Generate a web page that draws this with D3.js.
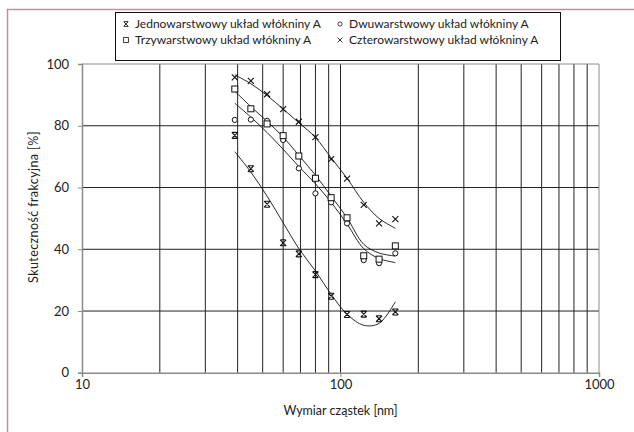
<!DOCTYPE html>
<html>
<head>
<meta charset="utf-8">
<script src="https://cdn.jsdelivr.net/npm/d3@7/dist/d3.min.js"></script>
<style>
body { margin: 0; background: #fff; }
text { font-family: Lato, "Open Sans", sans-serif; fill: #222; }
</style>
</head>
<body>
<div id="chart"></div>
<script>
// particle size [nm] and fractional efficiency [%]
const particleSize = [39, 45, 52, 60, 69, 80, 92, 106, 123, 141, 163];
const jedno  = [76.9, 66.1, 54.6, 42.1, 38.5, 31.8, 24.8, 18.9, 19.0, 17.5, 19.7];
const dwu    = [81.9, 82.0, 81.6, 75.4, 66.2, 58.1, 55.2, 48.4, 36.5, 35.5, 38.7];
const trzy   = [91.9, 85.5, 80.6, 76.8, 70.2, 63.0, 56.7, 50.2, 37.9, 36.8, 41.1];
const cztero = [95.7, 94.5, 90.2, 85.4, 81.3, 76.3, 69.2, 62.9, 54.4, 48.4, 49.8];
// trend line values at the same sizes
const jednoTrend  = [71.6, 65.0, 57.2, 48.6, 40.2, 33.0, 25.4, 19.0, 15.4, 16.0, 23.0];
const dwuTrend    = [87.3, 82.8, 77.8, 72.4, 66.8, 61.2, 55.2, 48.2, 40.2, 37.0, 35.7];
const trzyTrend   = [91.2, 86.2, 81.4, 76.4, 70.4, 64.0, 57.2, 50.2, 41.6, 38.8, 37.8];
const czteroTrend = [96.5, 93.6, 89.8, 85.4, 81.0, 76.2, 69.6, 63.0, 55.2, 50.0, 46.8];
const seriesNames = [
    "Jednowarstwowy układ włókniny A",
    "Dwuwarstwowy układ włókniny A",
    "Trzywarstwowy układ włókniny A",
    "Czterowarstwowy układ włókniny A"
];
const yTicks = [0, 20, 40, 60, 80, 100];
const xTicks = [10, 100, 1000];
const xLabel = "Wymiar cząstek [nm]";
const yLabel = "Skuteczność frakcyjna [%]";

const series = [
    { name: seriesNames[0], values: jedno, trend: jednoTrend, marker: "star" },
    { name: seriesNames[1], values: dwu, trend: dwuTrend, marker: "circle" },
    { name: seriesNames[2], values: trzy, trend: trzyTrend, marker: "square" },
    { name: seriesNames[3], values: cztero, trend: czteroTrend, marker: "x" }
];

const width = 634, height = 432;
const plotLeft = 82, plotRight = 599, plotTop = 64, plotBottom = 372.8;

const svg = d3.select("#chart").append("svg")
    .attr("width", width)
    .attr("height", height);

// outer frame (only top and left edge are visible)
svg.append("path")
    .attr("d", "M7.5," + height + "V9.5H" + width)
    .attr("fill", "none")
    .attr("stroke", "#b9939f")
    .attr("stroke-width", 1.5);

const x = d3.scaleLog().domain([10, 1000]).range([plotLeft, plotRight]);
const y = d3.scaleLinear().domain([0, 100]).range([plotBottom, plotTop]);

// grid
const minor = d3.range(2, 10).map(d => d * 10).concat(d3.range(2, 10).map(d => d * 100));
svg.append("g").selectAll("line")
    .data(minor.concat([100]))
    .enter().append("line")
    .attr("x1", d => x(d)).attr("x2", d => x(d))
    .attr("y1", plotTop).attr("y2", plotBottom)
    .attr("stroke", "#222");
svg.append("g").selectAll("line")
    .data(yTicks.filter(d => d > 0 && d < 100))
    .enter().append("line")
    .attr("x1", plotLeft).attr("x2", plotRight)
    .attr("y1", d => y(d)).attr("y2", d => y(d))
    .attr("stroke", "#222");

// plot border
svg.append("path")
    .attr("d", "M" + plotLeft + "," + plotTop + "H" + plotRight + "V" + plotBottom)
    .attr("fill", "none")
    .attr("stroke", "#8a8a8a");

// axes
const yAxis = svg.append("g")
    .attr("transform", "translate(" + plotLeft + ",0)")
    .call(d3.axisLeft(y).tickValues(yTicks).tickSize(4).tickPadding(9));
const xAxis = svg.append("g")
    .attr("transform", "translate(0," + plotBottom + ")")
    .call(d3.axisBottom(x).tickValues(xTicks).tickFormat(d3.format("d")).tickSize(4).tickPadding(3));
[xAxis, yAxis].forEach(a => {
    a.select(".domain").attr("stroke", "#8a8a8a").attr("stroke-width", 1.5);
    a.selectAll(".tick line").attr("stroke", "#8a8a8a");
    a.selectAll(".tick text").style("font-family", "Lato, sans-serif").style("font-size", "13px").attr("fill", "#222");
});

svg.append("text")
    .attr("x", x(100))
    .attr("y", 415)
    .attr("text-anchor", "middle")
    .style("font-size", "12.5px")
    .text(xLabel);
svg.append("text")
    .attr("transform", "translate(38,207) rotate(-90)")
    .attr("text-anchor", "middle")
    .style("font-size", "12.5px")
    .style("letter-spacing", "0.4px")
    .text(yLabel);

// trend lines
const line = d3.line()
    .x(d => x(d[0]))
    .y(d => y(d[1]))
    .curve(d3.curveCatmullRom.alpha(0.5));

series.forEach(s => {
    svg.append("path")
        .datum(s.trend.map((v, i) => [particleSize[i], v]))
        .attr("d", line)
        .attr("fill", "none")
        .attr("stroke", "#111")
        .attr("stroke-width", 0.9);
});

function drawMarker(g, type) {
    const r = 3;
    if (type === "circle") {
        g.append("circle").attr("r", 2.6).attr("fill", "#fff").attr("stroke", "#111");
    } else if (type === "square") {
        g.append("rect").attr("x", -r).attr("y", -r).attr("width", 2 * r).attr("height", 2 * r)
            .attr("fill", "#fff").attr("stroke", "#111");
    } else if (type === "x") {
        g.append("path").attr("d", "M-3,-3L3,3M-3,3L3,-3").attr("stroke", "#111").attr("stroke-width", 1.1);
    } else {
        g.append("path").attr("d", "M-3,-3L3,3M-3,3L3,-3M-2.5,-3H2.5M-2.5,3H2.5")
            .attr("stroke", "#111").attr("stroke-width", 1.1);
    }
}

series.forEach(s => {
    svg.append("g").selectAll("g")
        .data(s.values.map((v, i) => [particleSize[i], v]))
        .enter().append("g")
        .attr("transform", d => "translate(" + x(d[0]) + "," + y(d[1]) + ")")
        .each(function() { drawMarker(d3.select(this), s.marker); });
});

// legend
const legend = svg.append("g");
legend.append("rect")
    .attr("x", 115.5).attr("y", 12.5)
    .attr("width", 445).attr("height", 48)
    .attr("fill", "#fff").attr("stroke", "#111");
const legendPos = [[126, 24], [340, 24], [126, 40], [340, 40]];
series.forEach((s, i) => {
    const g = legend.append("g").attr("transform", "translate(" + legendPos[i][0] + "," + legendPos[i][1] + ")");
    drawMarker(g.append("g").attr("transform", "scale(0.8)"), s.marker);
    g.append("text").attr("x", 9).attr("dy", "0.35em").style("font-size", "12px").text(s.name);
});
</script>
</body>
</html>
